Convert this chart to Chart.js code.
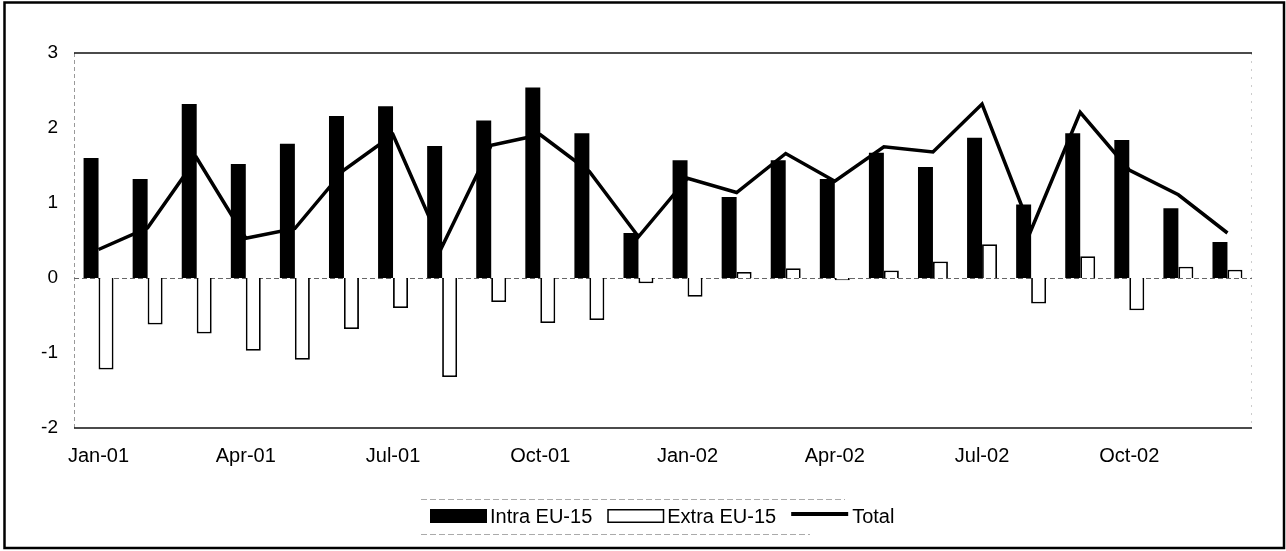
<!DOCTYPE html>
<html>
<head>
<meta charset="utf-8">
<script src="https://cdn.jsdelivr.net/npm/chart.js@4/dist/chart.umd.min.js"></script>
<style>
    html, body { margin: 0; padding: 0; background: #fff; }
    #wrap { position: relative; width: 1286px; height: 551px; }
</style>
</head>
<body>
<div id="wrap"><canvas id="myChart" width="1286" height="551"></canvas></div>
<script>
// Monthly categories
var months = ['Jan-01', 'Feb-01', 'Mar-01', 'Apr-01', 'May-01', 'Jun-01', 'Jul-01', 'Aug-01', 'Sep-01', 'Oct-01', 'Nov-01', 'Dec-01',
              'Jan-02', 'Feb-02', 'Mar-02', 'Apr-02', 'May-02', 'Jun-02', 'Jul-02', 'Aug-02', 'Sep-02', 'Oct-02', 'Nov-02', 'Dec-02'];

// Series values
var intraEU = [1.60, 1.32, 2.32, 1.52, 1.79, 2.16, 2.29, 1.76, 2.10, 2.54, 1.93, 0.60,
               1.57, 1.08, 1.57, 1.32, 1.67, 1.48, 1.87, 0.98, 1.93, 1.84, 0.93, 0.48];
var extraEU = [-1.22, -0.62, -0.74, -0.97, -1.09, -0.68, -0.40, -1.32, -0.32, -0.60, -0.56, -0.07,
               -0.25, 0.08, 0.13, -0.03, 0.10, 0.22, 0.45, -0.34, 0.29, -0.43, 0.15, 0.11];
var totalLine = [0.38, 0.67, 1.60, 0.53, 0.66, 1.44, 1.91, 0.42, 1.77, 1.91, 1.42, 0.55,
                 1.33, 1.14, 1.66, 1.29, 1.75, 1.68, 2.32, 0.64, 2.21, 1.44, 1.11, 0.60];

// Y axis ticks
var yTicks = [-2, -1, 0, 1, 2, 3];

var FONT = '"Liberation Sans", Arial, sans-serif';

// Draws the plot frame, the zero line, the legend and the outer border
var framePlugin = {
    id: 'frame',
    beforeDatasetsDraw: function(chart) {
        var c = chart.ctx, a = chart.chartArea;
        var y0 = chart.scales.y.getPixelForValue(0);
        c.save();
        // sides, faint and dashed
        c.strokeStyle = '#999';
        c.lineWidth = 1;
        c.setLineDash([4, 3]);
        c.beginPath();
        c.moveTo(a.left + 0.5, a.top); c.lineTo(a.left + 0.5, a.bottom);
        c.stroke();
        c.strokeStyle = '#ccc';
        c.setLineDash([2, 6]);
        c.beginPath();
        c.moveTo(a.right - 0.5, a.top); c.lineTo(a.right - 0.5, a.bottom);
        c.stroke();
        // zero line
        c.strokeStyle = '#666';
        c.setLineDash([5, 3]);
        c.beginPath();
        c.moveTo(a.left, y0 + 0.5); c.lineTo(a.right, y0 + 0.5);
        c.stroke();
        // top and bottom
        c.setLineDash([]);
        c.strokeStyle = '#111';
        c.lineWidth = 1.5;
        c.beginPath();
        c.moveTo(a.left, a.top); c.lineTo(a.right, a.top);
        c.moveTo(a.left, a.bottom); c.lineTo(a.right, a.bottom);
        c.stroke();
        c.restore();
    },
    afterDraw: function(chart) {
        var c = chart.ctx;
        var sets = chart.data.datasets;
        var x = 430, yMid = 516;
        c.save();
        c.font = '20px ' + FONT;
        c.textBaseline = 'middle';
        c.fillStyle = '#000';
        sets.forEach(function(ds, i) {
            if (ds.type === 'line') {
                c.strokeStyle = ds.borderColor;
                c.lineWidth = 4;
                c.beginPath();
                c.moveTo(x, yMid - 2); c.lineTo(x + 57, yMid - 2);
                c.stroke();
                x += 61;
            } else {
                c.fillStyle = ds.backgroundColor;
                c.fillRect(x, yMid - 7, 57, 14);
                c.strokeStyle = '#000';
                c.lineWidth = 1.5;
                c.strokeRect(x + 0.75, yMid - 6.25, 55.5, 12.5);
                x += 60;
            }
            c.fillStyle = '#000';
            c.fillText(ds.label, x, yMid + 1);
            x += c.measureText(ds.label).width + 15;
        });
        // legend rules
        c.strokeStyle = '#aaa';
        c.lineWidth = 1;
        c.setLineDash([6, 3]);
        c.beginPath();
        c.moveTo(421, 499.5); c.lineTo(845, 499.5);
        c.moveTo(421, 534.5); c.lineTo(810, 534.5);
        c.stroke();
        // outer border
        c.setLineDash([]);
        c.strokeStyle = '#000';
        c.lineWidth = 2.5;
        c.strokeRect(4.5, 2.5, 1279.5, 545.5);
        c.restore();
    }
};

var ctx = document.getElementById('myChart').getContext('2d');

var chart = new Chart(ctx, {
    type: 'bar',
    data: {
        labels: months,
        datasets: [
            {
                label: 'Intra EU-15',
                data: intraEU,
                backgroundColor: '#000',
                borderColor: '#000',
                borderWidth: 0,
                categoryPercentage: 0.61,
                barPercentage: 1.0
            },
            {
                label: 'Extra EU-15',
                data: extraEU,
                backgroundColor: '#fff',
                borderColor: '#000',
                borderWidth: 1.8,
                categoryPercentage: 0.61,
                barPercentage: 1.0
            },
            {
                type: 'line',
                label: 'Total',
                data: totalLine,
                borderColor: '#000',
                backgroundColor: '#000',
                borderWidth: 3.5,
                pointRadius: 0,
                tension: 0,
                order: -1
            }
        ]
    },
    options: {
        responsive: false,
        animation: false,
        layout: { padding: { top: 53, right: 34, left: 0, bottom: 0 } },
        plugins: {
            tooltip: { enabled: false },
            legend: { display: false }
        },
        scales: {
            x: {
                grid: { display: false, drawTicks: false },
                border: { display: false },
                ticks: {
                    color: '#000',
                    font: { family: FONT, size: 20 },
                    padding: 16,
                    autoSkip: false,
                    maxRotation: 0,
                    callback: function(val, i) { return i % 3 === 0 ? months[i] : ''; }
                },
                afterFit: function(scale) { scale.height = 123; }
            },
            y: {
                min: yTicks[0],
                max: yTicks[yTicks.length - 1],
                grid: { display: false, drawTicks: false },
                border: { display: false },
                afterBuildTicks: function(scale) {
                    scale.ticks = yTicks.map(function(v) { return { value: v }; });
                },
                ticks: {
                    color: '#000',
                    font: { family: FONT, size: 19 },
                    padding: 16
                },
                afterFit: function(scale) { scale.width = 74; }
            }
        }
    },
    plugins: [framePlugin]
});
</script>
</body>
</html>
